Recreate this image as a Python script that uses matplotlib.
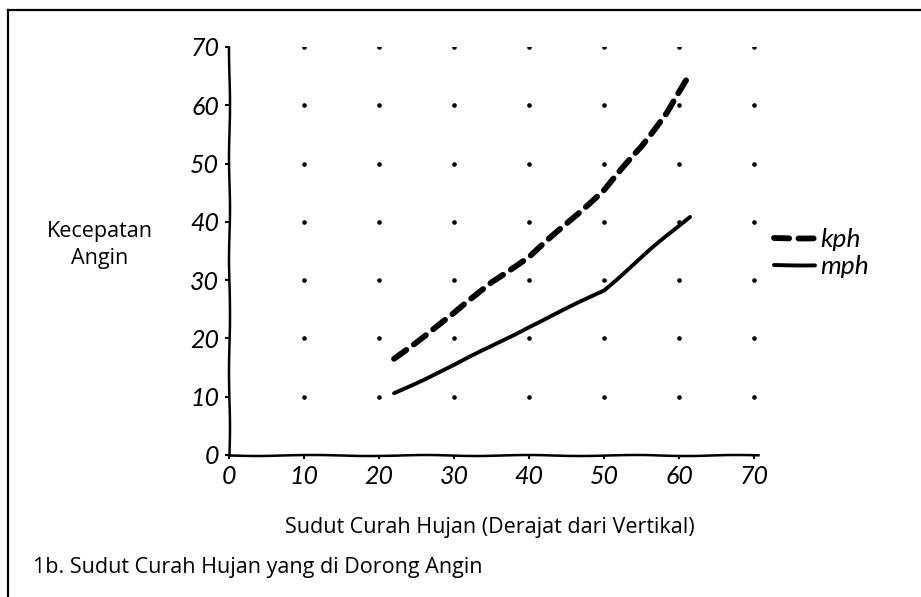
import numpy as np
import matplotlib
matplotlib.use("Agg")
import matplotlib.pyplot as plt
from matplotlib.lines import Line2D

# data
kph_angle = [22, 30, 35, 40, 45, 50, 55, 58.3, 61]
kph = [16.5, 24.3, 29.7, 34.0, 39.7, 45.5, 53.0, 58.7, 64.3]
mph_angle = [22, 30, 40, 45, 50, 56.6, 61.4]
mph = [10.6, 15.4, 22.0, 25.1, 28.3, 35.7, 40.9]

ticks = [0, 10, 20, 30, 40, 50, 60, 70]
dot_vals = [10, 20, 30, 40, 50, 60, 70]

hand = dict(fontfamily='Lato', fontstyle='italic', fontweight='normal', color='black')

with plt.xkcd(scale=0.5, length=120, randomness=2):
    plt.rcParams['font.family'] = ['Lato', 'DejaVu Sans']
    plt.rcParams['path.effects'] = []

    fig = plt.figure(figsize=(9.21, 5.97), dpi=100)
    ax = fig.add_axes([0.2486, 0.2379, 0.5744, 0.6834])

    # dotted grid
    gx, gy = np.meshgrid(dot_vals, dot_vals)
    ax.plot(gx.ravel(), gy.ravel(), 'o', color='black', markersize=2.3,
            linestyle='none')

    ax.plot(kph_angle, kph, color='black', lw=4.2, linestyle=(0, (2.6, 1.6)),
            dash_capstyle='round', solid_capstyle='round', label='kph')
    ax.plot(mph_angle, mph, color='black', lw=2.8, solid_capstyle='round',
            label='mph')

    ax.set_xlim(0, 70.5)
    ax.set_ylim(0, 70)
    ax.set_xticks(ticks)
    ax.set_yticks(ticks)
    ax.set_xticklabels([str(t) for t in ticks], fontsize=18, **hand)
    ax.set_yticklabels([str(t) for t in ticks], fontsize=18, **hand)
    ax.tick_params(axis='both', length=3, width=1.5, direction='out', pad=4)

    for s in ['top', 'right']:
        ax.spines[s].set_visible(False)
    ax.spines['left'].set_linewidth(1.8)
    ax.spines['bottom'].set_linewidth(1.8)

    leg = ax.legend(loc='upper left', bbox_to_anchor=(0.985, 0.615), frameon=False,
                    handlelength=1.55, handletextpad=0.2, labelspacing=0.15,
                    prop=dict(family='Lato', style='italic', size=19))
    for t in leg.get_texts():
        t.set_color('black')

    fig.text(100 / 921, 1 - 245 / 597, 'Kecepatan\nAngin', ha='center', va='center',
             fontsize=15.5, fontfamily='Open Sans', linespacing=1.35)
    fig.text(490 / 921, 1 - 527 / 597, 'Sudut Curah Hujan (Derajat dari Vertikal)',
             ha='center', va='center', fontsize=15.5, fontfamily='Open Sans')
    fig.text(33 / 921, 1 - 568 / 597, '1b. Sudut Curah Hujan yang di Dorong Angin',
             ha='left', va='center', fontsize=15.5, fontfamily='Open Sans')

    # frame lines (top and left only), straight
    fig.add_artist(Line2D([8 / 921, 1.0], [1 - 10 / 597, 1 - 10 / 597],
                          transform=fig.transFigure, color='black', lw=1.6,
                          sketch_params=None))
    fig.add_artist(Line2D([8 / 921, 8 / 921], [0.0, 1 - 10 / 597],
                          transform=fig.transFigure, color='black', lw=1.6,
                          sketch_params=None))

    fig.savefig('out.png', dpi=100, facecolor='white')
